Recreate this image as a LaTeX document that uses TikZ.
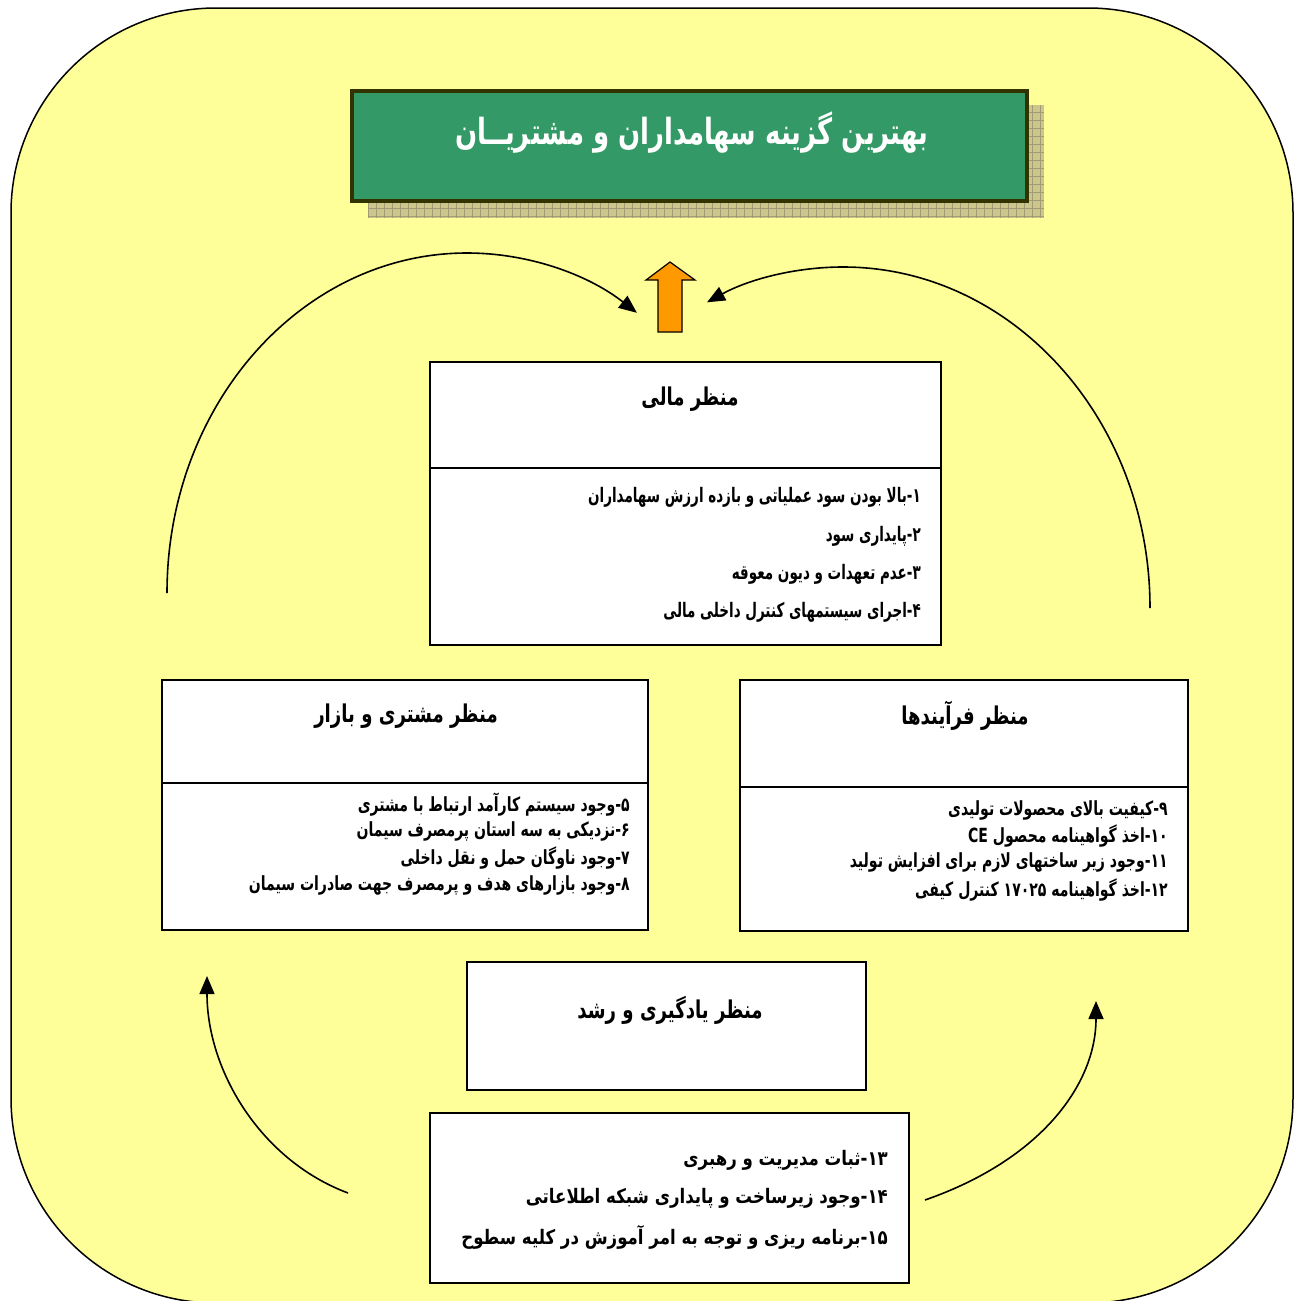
\documentclass[tikz,border=0pt]{standalone}
\usepackage{fontspec}
\usetikzlibrary{arrows.meta}
\TeXXeTstate=1
\newfontfamily\fat[Script=Arabic,FakeStretch=0.72]{DejaVu Sans}
\newfontfamily\fah[Script=Arabic,FakeStretch=0.74]{DejaVu Sans}
\newfontfamily\faf[Script=Arabic,FakeStretch=0.675]{DejaVu Sans}
\newfontfamily\fac[Script=Arabic,FakeStretch=0.72]{DejaVu Sans}
\newfontfamily\fab[Script=Arabic,FakeStretch=0.83]{DejaVu Sans}
\definecolor{bgy}{RGB}{255,255,153}
\definecolor{tgreen}{RGB}{51,153,102}
\definecolor{tborder}{RGB}{51,51,0}
\definecolor{shad}{RGB}{204,198,140}
\definecolor{shadgrid}{RGB}{160,156,120}
\definecolor{aorange}{RGB}{255,153,0}
\begin{document}
\begin{tikzpicture}[x=1pt,y=-1pt,
  pbox/.style={draw=black, line width=2pt, fill=white, inner sep=0pt},
  headtxt/.style={inner sep=0pt, font=\fah\bfseries\fontsize{24.5}{28}\selectfont},
  itf/.style={anchor=east, inner sep=0pt, font=\faf\bfseries\fontsize{20}{23}\selectfont},
  itc/.style={anchor=east, inner sep=0pt, font=\fac\bfseries\fontsize{19.5}{22}\selectfont},
  itb/.style={anchor=east, inner sep=0pt, font=\fab\bfseries\fontsize{20}{24}\selectfont},
  conn/.style={line width=1.6pt, -{Triangle[length=18pt,width=15pt]}}
]
\useasboundingbox (0,0) rectangle (1297,1301);
% background
\draw[line width=1.5pt, fill=bgy, rounded corners=205pt] (11,8) rectangle (1293,1303);
% title shadow
\fill[shad] (368,105) rectangle (1044,218);
\draw[shadgrid, line width=0.6pt, step=8pt] (368,105) grid (1044,218);
% title
\node[draw=tborder, line width=3.5pt, fill=tgreen, minimum width=675, minimum height=110, inner sep=0pt] (title) at (689.5,146) {};
\node[text=white, inner sep=0pt, font=\fat\bfseries\fontsize{36}{40}\selectfont] (titletxt) at (692,133) {\beginR بهترین گزینه سهامداران و مشتریــان\endR};
% orange arrow
\draw[line width=1.2pt, fill=aorange, line join=miter] (658,332) -- (658,280) -- (646,280) -- (670,262) -- (695,280) -- (682,280) -- (682,332) -- cycle;
% financial
\node[pbox, minimum width=511, minimum height=106] (finh) at (685.5,415) {};
\node[pbox, minimum width=511, minimum height=177] (finb) at (685.5,556.5) {};
\node[headtxt] (fint) at (690,399) {\beginR منظر مالی\endR};
\node[itf] (f1) at (921,497) {\beginR ۱-بالا بودن سود عملیاتی و بازده ارزش سهامداران\endR};
\node[itf] (f2) at (921,536) {\beginR ۲-پایداری سود\endR};
\node[itf] (f3) at (921,574) {\beginR ۳-عدم تعهدات و دیون معوقه\endR};
\node[itf] (f4) at (921,612) {\beginR ۴-اجرای سیستمهای کنترل داخلی مالی\endR};
% customer
\node[pbox, minimum width=486, minimum height=103] (cush) at (405,731.5) {};
\node[pbox, minimum width=486, minimum height=147] (cusb) at (405,856.5) {};
\node[headtxt] (cust) at (406,716) {\beginR منظر مشتری و بازار\endR};
\node[itc] (c5) at (630,805) {\beginR ۵-وجود سیستم کارآمد ارتباط با مشتری\endR};
\node[itc] (c6) at (630,831) {\beginR ۶-نزدیکی به سه استان پرمصرف سیمان\endR};
\node[itc] (c7) at (630,858) {\beginR ۷-وجود ناوگان حمل و نقل داخلی\endR};
\node[itc] (c8) at (630,885) {\beginR ۸-وجود بازارهای هدف و پرمصرف جهت صادرات سیمان\endR};
% process
\node[pbox, minimum width=448, minimum height=107] (proh) at (964,733.5) {};
\node[pbox, minimum width=448, minimum height=144] (prob) at (964,859) {};
\node[headtxt] (prot) at (965,716) {\beginR منظر فرآیندها\endR};
\node[itc] (p9) at (1168,810) {\beginR ۹-کیفیت بالای محصولات تولیدی\endR};
\node[itc] (p10) at (1168,836) {\beginR \beginL۱۰\endL-اخذ گواهینامه محصول \beginL CE\endL\endR};
\node[itc] (p11) at (1168,862) {\beginR \beginL۱۱\endL-وجود زیر ساختهای لازم برای افزایش تولید\endR};
\node[itc] (p12) at (1168,890) {\beginR \beginL۱۲\endL-اخذ گواهینامه \beginL۱۷۰۲۵\endL{} کنترل کیفی\endR};
% learning
\node[pbox, minimum width=399, minimum height=128] (lrn) at (666.5,1026) {};
\node[headtxt] (lrnt) at (670,1010) {\beginR منظر یادگیری و رشد\endR};
% bottom items
\node[pbox, minimum width=479, minimum height=170] (lrnb) at (669.5,1198) {};
\node[itb] (b13) at (888,1160) {\beginR \beginL۱۳\endL-ثبات مدیریت و رهبری\endR};
\node[itb] (b14) at (888,1198) {\beginR \beginL۱۴\endL-وجود زیرساخت و پایداری شبکه اطلاعاتی\endR};
\node[itb] (b15) at (888,1237) {\beginR \beginL۱۵\endL-برنامه ریزی و توجه به امر آموزش در کلیه سطوح\endR};
% connector ends
\coordinate (tlS) at (167,593);
\coordinate (trS) at (1150,608);
\coordinate (blS) at (348,1193);
\coordinate (blE) at (207,976);
\coordinate (brS) at (925,1200);
\coordinate (brE) at (1096,1001);
\draw[conn] (tlS) arc[start angle=180, end angle=304.5, x radius=300, y radius=340];
\draw[conn] (trS) arc[start angle=0, end angle=-116.3, x radius=307, y radius=341];
\draw[conn] (blS) .. controls (260,1160) and (207,1070) .. (blE);
\draw[conn] (brS) .. controls (1040,1160) and (1096,1085) .. (brE);
\end{tikzpicture}
\end{document}
